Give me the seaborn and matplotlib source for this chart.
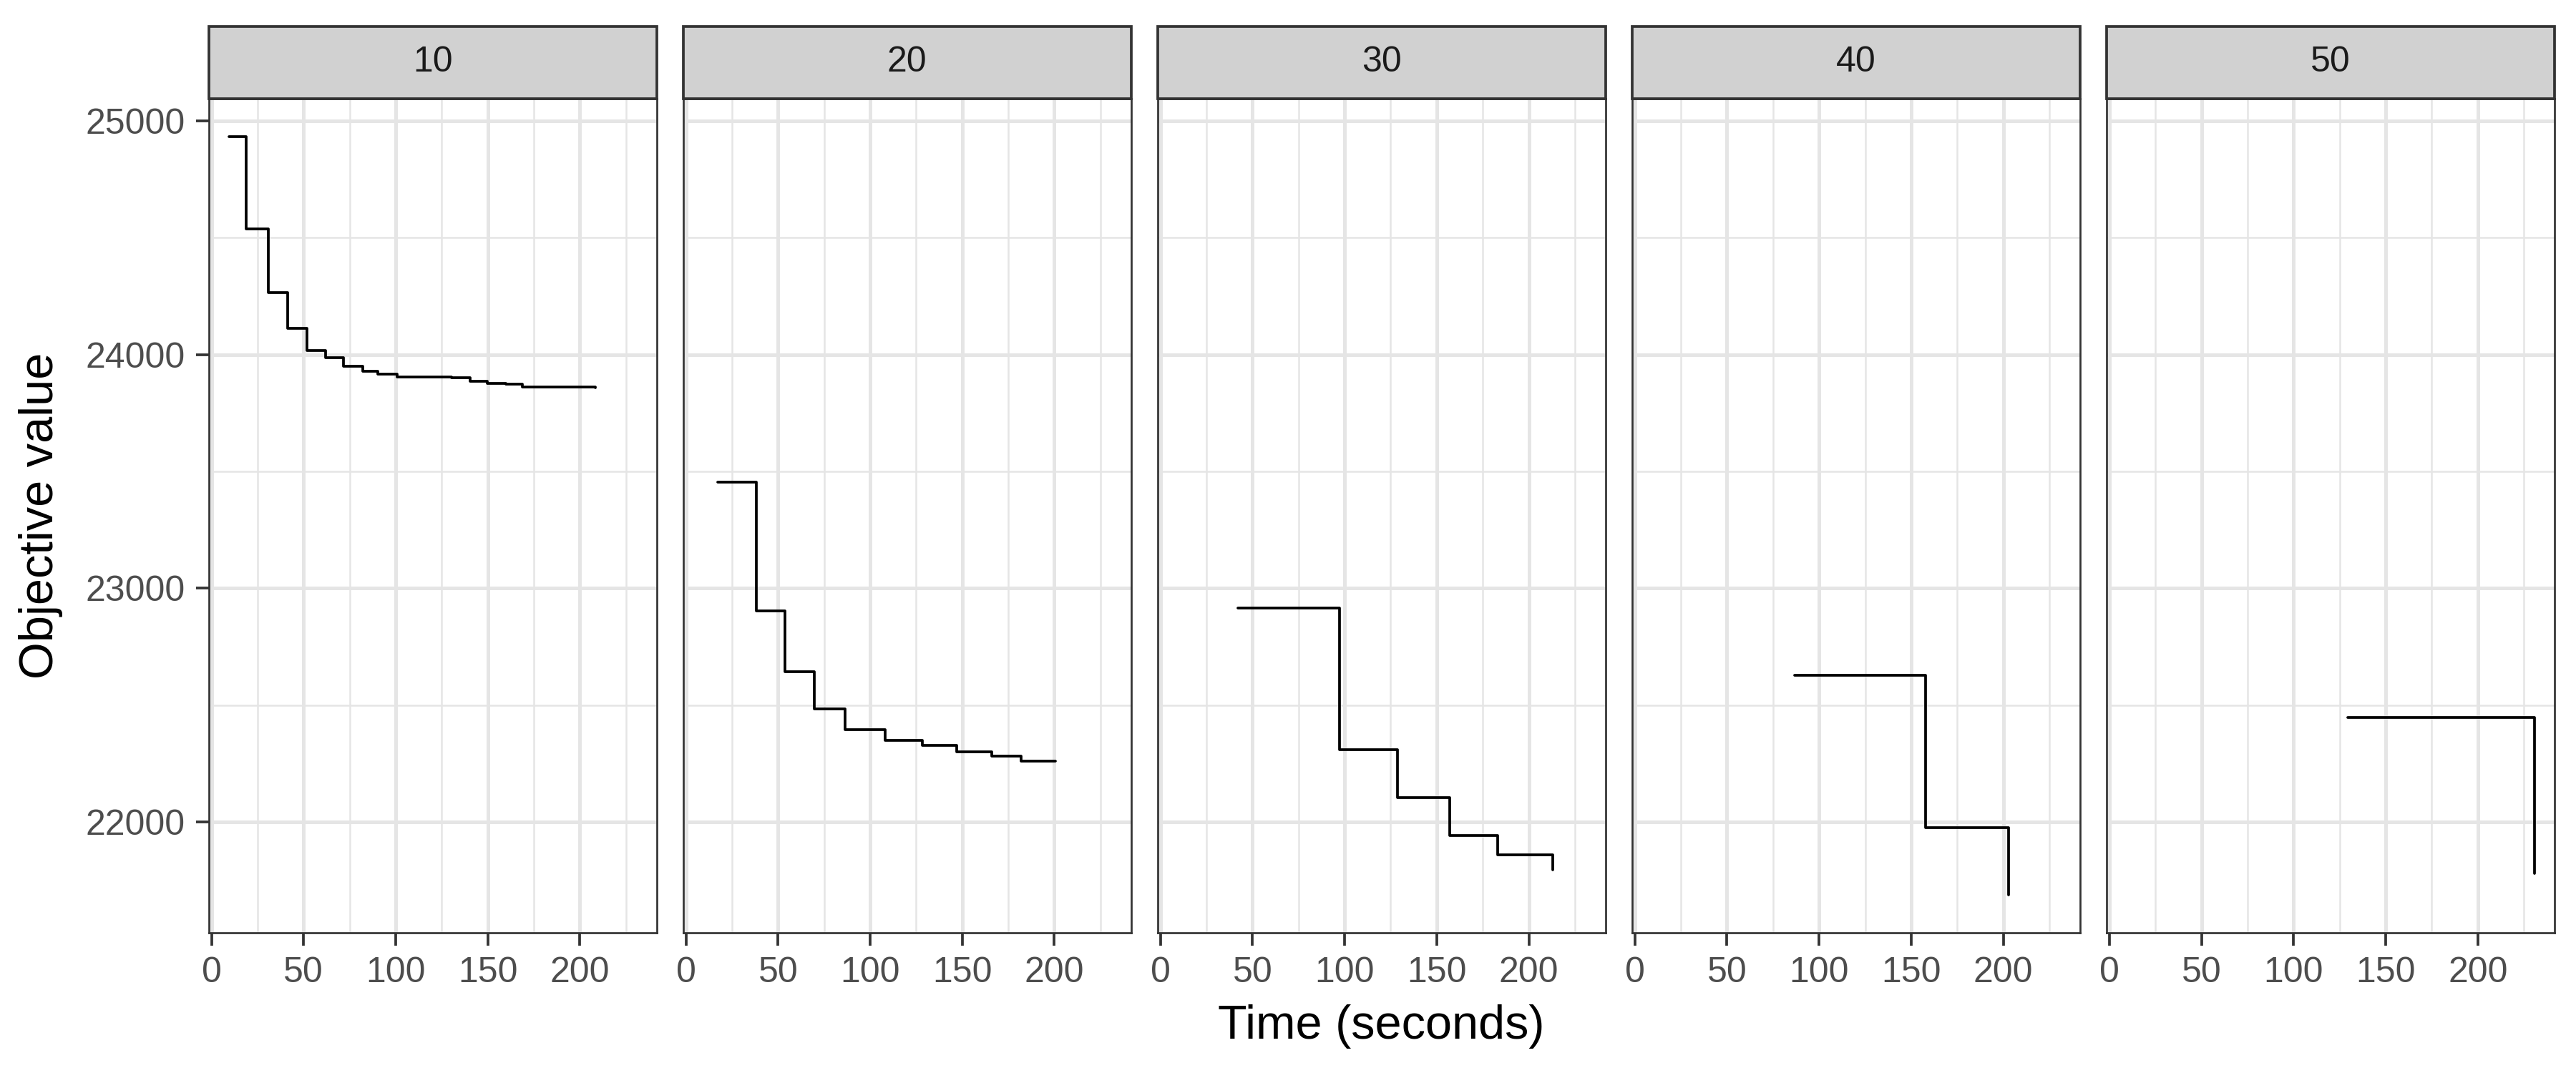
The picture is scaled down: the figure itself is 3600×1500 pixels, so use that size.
import numpy as np
import pandas as pd
import matplotlib
matplotlib.use("Agg")
import matplotlib.pyplot as plt
from matplotlib.patches import Rectangle
from matplotlib.ticker import MultipleLocator
import seaborn as sns

# ---- data ----
panels = [10, 20, 30, 40, 50]

time_10 = [9.5, 19.0, 31.0, 41.5, 52.0, 62.0, 71.8, 82.0, 90.5, 100.8, 130.5, 140.3, 149.7, 160.0, 168.9, 208.4]
obj_10 = [24933, 24539, 24266, 24111, 24016, 23987, 23951, 23929, 23916, 23904, 23900, 23886, 23877, 23873, 23860, 23858]

time_20 = [17.3, 38.4, 53.7, 69.6, 86.5, 108.0, 128.3, 146.9, 166.1, 182.1, 200.5]
obj_20 = [23455, 22904, 22643, 22482, 22393, 22348, 22327, 22299, 22281, 22259, 22259]

time_30 = [41.9, 97.3, 128.8, 157.1, 183.2, 212.9]
obj_30 = [22914, 22310, 22104, 21941, 21858, 21795]

time_40 = [86.9, 157.7, 202.9]
obj_40 = [22627, 21975, 21687]

time_50 = [129.5, 230.6]
obj_50 = [22446, 21780]

times = [time_10, time_20, time_30, time_40, time_50]
objs = [obj_10, obj_20, obj_30, obj_40, obj_50]

frames = [pd.DataFrame({"panel": p, "time": t, "objective": v})
          for p, t, v in zip(panels, times, objs)]
df = pd.concat(frames, ignore_index=True)

# ---- style ----
sns.set_theme(style="white")
plt.rcParams["font.family"] = ["Liberation Sans", "DejaVu Sans"]

g = sns.FacetGrid(df, col="panel", col_order=panels, sharex=True, sharey=True,
                  despine=False, height=5, aspect=0.48)
g.map_dataframe(sns.lineplot, x="time", y="objective", estimator=None, sort=False,
                drawstyle="steps-post", color="black", linewidth=0.9)
g.set_titles("")
g.set_axis_labels("", "")

fig = g.figure
fig.set_size_inches(12, 5)
fig.subplots_adjust(left=291.5 / 3600, right=3570 / 3600,
                    bottom=1 - 1304 / 1500, top=1 - 138 / 1500, wspace=0.059)

xmin, xmax = df["time"].min(), df["time"].max()
ymin, ymax = df["objective"].min(), df["objective"].max()
xpad = 0.05 * (xmax - xmin)
ypad = 0.05 * (ymax - ymin)

strip_h = 101.5 / 1166

for i, (ax, p) in enumerate(zip(g.axes.flat, panels)):
    ax.set_xlim(xmin - xpad, xmax + xpad)
    ax.set_ylim(ymin - ypad, ymax + ypad)
    ax.xaxis.set_major_locator(MultipleLocator(50))
    ax.xaxis.set_minor_locator(MultipleLocator(25))
    ax.yaxis.set_major_locator(MultipleLocator(1000))
    ax.yaxis.set_minor_locator(MultipleLocator(500))
    ax.set_axisbelow(True)
    ax.grid(which="major", color="#E5E5E5", linewidth=1.2)
    ax.grid(which="minor", color="#E5E5E5", linewidth=0.6)
    for s in ax.spines.values():
        s.set_visible(True)
        s.set_color("#333333")
        s.set_linewidth(0.65)
    ax.tick_params(axis="both", which="major", length=4.3, width=0.9,
                   color="#333333", labelcolor="#4D4D4D", labelsize=12, pad=3.6,
                   bottom=True, left=(i == 0))
    ax.tick_params(axis="both", which="minor", length=0)
    if i > 0:
        ax.tick_params(axis="y", length=0, labelleft=False)
    ax.set_xlabel("")
    ax.set_ylabel("")
    rect = Rectangle((0, 1), 1, strip_h, transform=ax.transAxes, clip_on=False,
                     facecolor="#D1D1D1", edgecolor="#333333", linewidth=0.9)
    ax.add_patch(rect)
    ax.text(0.5, 1 + strip_h / 2, str(p), transform=ax.transAxes, ha="center",
            va="center", fontsize=12, color="#1A1A1A")

fig.text(57 / 3600, 0.5 * ((1 - 138 / 1500) + (1 - 1304 / 1500)), "Objective value",
         rotation=90, ha="center", va="center", fontsize=16, color="black")
fig.text(0.5 * (291.5 + 3570) / 3600, 1 - 1435 / 1500, "Time (seconds)",
         ha="center", va="center", fontsize=16, color="black")

fig.savefig("out.png", dpi=300)
